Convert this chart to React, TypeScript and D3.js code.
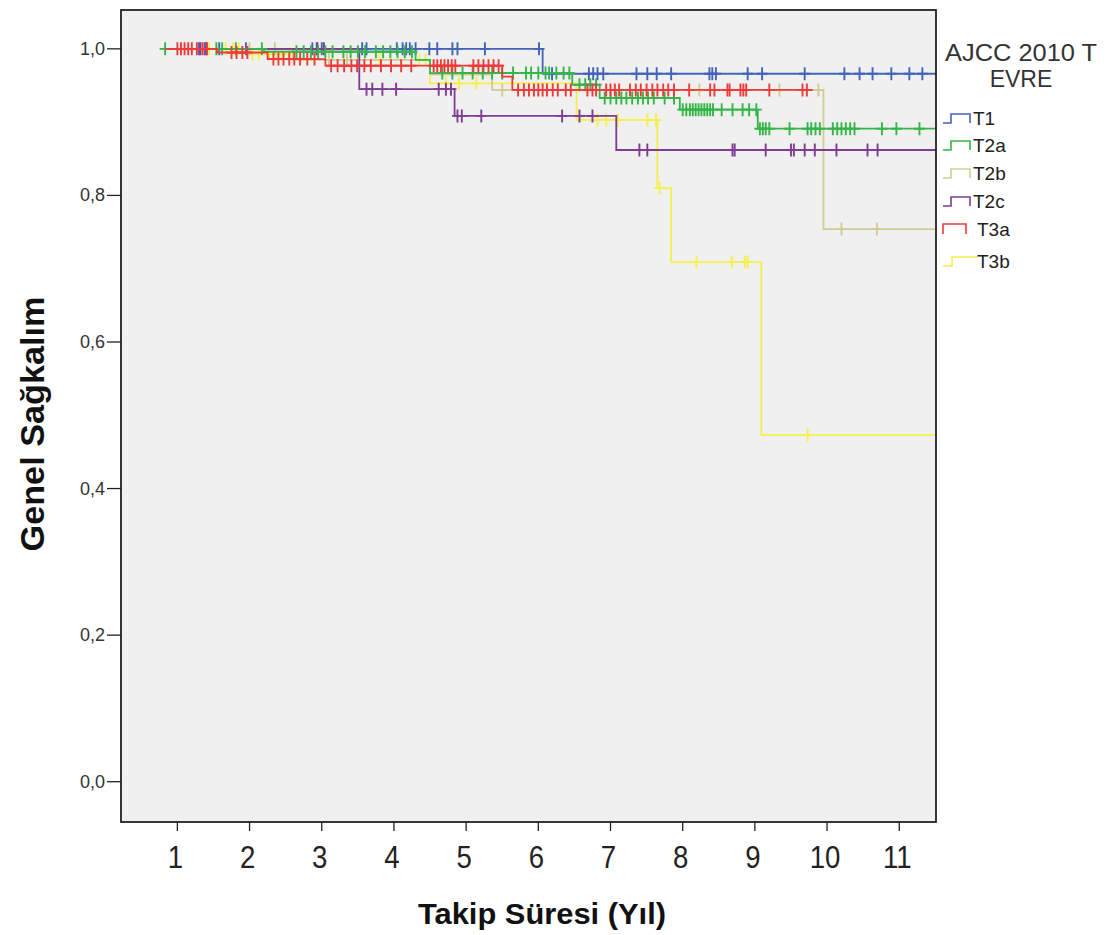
import React from "react";
import * as d3 from "d3";

// ---- Kaplan–Meier data (time in years, survival proportion) ----
const X_TICKS = [1, 2, 3, 4, 5, 6, 7, 8, 9, 10, 11];
const Y_TICKS = [0, 0.2, 0.4, 0.6, 0.8, 1.0];
const X_DOMAIN = [0.219, 11.509];
const Y_DOMAIN = [-0.055, 1.053];
const START_TIME = 0.83;

const GROUPS = ["T1", "T2a", "T2b", "T2c", "T3a", "T3b"];
const COLORS = ["#4563B8", "#35B548", "#D2CB93", "#7E3C92", "#EF3A3A", "#F5EF4C"];

// [event time, survival after the event]
const t1Steps = [[6.06, 0.966]];
const t1Censored = [1.3, 1.38, 1.58, 1.95, 2.87, 2.93, 3.0, 3.56, 3.62, 4.04, 4.12, 4.17, 4.22, 4.3, 4.49, 4.6, 4.81, 4.88, 5.26, 6.01, 6.19, 6.7, 6.76, 6.82, 6.9, 7.36, 7.51, 7.64, 7.84, 8.37, 8.41, 8.46, 8.9, 9.1, 9.69, 10.24, 10.45, 10.63, 10.89, 11.14, 11.32];
const t1End = 11.51;

const t2aSteps = [[2.2, 0.996], [4.3, 0.985], [4.5, 0.967], [6.47, 0.951], [6.85, 0.933], [7.96, 0.917], [9.04, 0.891]];
const t2aCensored = [0.83, 1.54, 1.62, 1.81, 2.17, 2.65, 2.75, 2.85, 2.95, 3.05, 3.15, 3.3, 3.4, 3.5, 3.6, 3.75, 3.85, 3.95, 4.05, 4.15, 4.25, 4.67, 4.81, 4.95, 5.09, 5.23, 5.36, 5.5, 5.65, 5.83, 5.9, 6.0, 6.1, 6.15, 6.25, 6.35, 6.43, 6.57, 6.65, 6.72, 6.8, 6.92, 7.0, 7.08, 7.15, 7.22, 7.3, 7.38, 7.45, 7.52, 7.6, 7.75, 7.88, 8.0, 8.05, 8.1, 8.14, 8.18, 8.22, 8.26, 8.3, 8.34, 8.38, 8.42, 8.54, 8.69, 8.83, 8.92, 9.02, 9.07, 9.11, 9.15, 9.2, 9.48, 9.73, 9.78, 9.84, 9.9, 10.08, 10.14, 10.2, 10.26, 10.32, 10.38, 10.76, 10.96, 11.28];
const t2aEnd = 11.51;

const t2bSteps = [[2.6, 0.985], [4.5, 0.965], [5.36, 0.944], [9.95, 0.754]];
const t2bCensored = [2.0, 2.35, 3.1, 3.35, 5.5, 8.23, 9.34, 9.88, 10.2, 10.69];
const t2bEnd = 11.51;

const t2cSteps = [[3.52, 0.945], [4.84, 0.9085], [7.08, 0.862]];
const t2cCensored = [1.32, 1.4, 2.94, 3.03, 3.62, 3.7, 3.84, 4.03, 4.62, 4.72, 4.79, 4.88, 4.94, 5.21, 6.33, 6.57, 6.75, 7.4, 7.51, 8.69, 8.72, 9.15, 9.5, 9.54, 9.69, 9.83, 10.13, 10.56, 10.7];
const t2cEnd = 11.51;

const t3aSteps = [[1.55, 0.995], [2.25, 0.986], [3.05, 0.977], [5.5, 0.962], [5.64, 0.944]];
const t3aCensored = [1.0, 1.05, 1.1, 1.15, 1.2, 1.27, 1.35, 1.41, 1.75, 1.82, 1.9, 1.97, 2.33, 2.4, 2.47, 2.55, 2.62, 2.7, 2.8, 2.9, 3.13, 3.22, 3.31, 3.41, 3.49, 3.59, 3.68, 3.82, 3.96, 4.1, 4.24, 4.55, 4.6, 4.65, 4.7, 4.75, 4.8, 4.85, 5.1, 5.17, 5.24, 5.31, 5.38, 5.45, 5.72, 5.8, 5.87, 5.94, 6.0, 6.06, 6.12, 6.2, 6.27, 6.38, 6.45, 6.68, 6.75, 6.8, 6.94, 7.0, 7.06, 7.12, 7.27, 7.35, 7.42, 7.5, 7.58, 7.65, 7.73, 7.8, 7.88, 8.09, 8.38, 8.44, 8.62, 8.65, 8.8, 8.84, 8.88, 9.2, 9.66, 9.72];
const t3aEnd = 9.8;

const t3bSteps = [[1.9, 0.993], [2.6, 0.985], [4.5, 0.953], [6.53, 0.903], [7.65, 0.81], [7.84, 0.709], [9.09, 0.473]];
const t3bCensored = [1.44, 1.54, 1.67, 1.77, 1.85, 2.04, 2.13, 2.27, 2.36, 2.45, 2.55, 3.8, 4.35, 4.44, 4.72, 4.9, 5.14, 6.82, 6.94, 7.1, 7.51, 7.63, 7.68, 8.19, 8.68, 8.86, 8.9, 9.73];
const t3bEnd = 11.51;

const SERIES = [
  { steps: t1Steps, censored: t1Censored, end: t1End },
  { steps: t2aSteps, censored: t2aCensored, end: t2aEnd },
  { steps: t2bSteps, censored: t2bCensored, end: t2bEnd },
  { steps: t2cSteps, censored: t2cCensored, end: t2cEnd },
  { steps: t3aSteps, censored: t3aCensored, end: t3aEnd },
  { steps: t3bSteps, censored: t3bCensored, end: t3bEnd },
];
// drawing order (later = on top)
const DRAW_ORDER = [5, 2, 0, 3, 1, 4];

const FONT = "'Liberation Sans', Arial, Helvetica, sans-serif";

function survivalAt(steps: number[][], t: number) {
  let s = 1;
  for (const [time, v] of steps) if (time <= t) s = v;
  return s;
}

export default function App() {
  const W = 1120;
  const H = 935;
  const left = 121, right = 936, top = 10, bottom = 822;

  const x = d3.scaleLinear().domain(X_DOMAIN).range([left, right]);
  const y = d3.scaleLinear().domain(Y_DOMAIN).range([bottom, top]);

  const line = d3
    .line<number[]>()
    .x((d) => x(d[0]))
    .y((d) => y(d[1]))
    .curve(d3.curveStepAfter);

  const legendY = [118, 145, 173, 201, 229, 261];

  return (
    <svg
      width={W}
      height={H}
      style={{ position: "absolute", left: 0, top: 0, background: "#fff" }}
      fontFamily={FONT}
    >
      <rect x={left} y={top} width={right - left} height={bottom - top} fill="#F0F0F0" />

      {/* survival curves */}
      {DRAW_ORDER.map((gi) => {
        const s = SERIES[gi];
        const pts = [[START_TIME, 1], ...s.steps];
        const last = pts[pts.length - 1][1];
        pts.push([s.end, last]);
        return (
          <g key={GROUPS[gi]} stroke={COLORS[gi]} fill="none" strokeWidth={1.8}>
            <path d={line(pts) || ""} />
            {s.censored.map((t, i) => {
              const cx = x(t);
              const cy = y(survivalAt(s.steps, t));
              return (
                <path
                  key={i}
                  d={`M${cx},${cy - 6.5}V${cy + 6.5}M${cx - 5.5},${cy}H${cx + 5.5}`}
                  strokeWidth={1.9}
                />
              );
            })}
          </g>
        );
      })}

      {/* frame */}
      <rect
        x={left}
        y={top}
        width={right - left}
        height={bottom - top}
        fill="none"
        stroke="#222"
        strokeWidth={1.8}
      />

      {/* y axis */}
      {Y_TICKS.map((v) => (
        <g key={v}>
          <line x1={left - 14} x2={left} y1={y(v)} y2={y(v)} stroke="#222" strokeWidth={1.3} />
          <text
            x={left - 16}
            y={y(v) + 6}
            textAnchor="end"
            fontSize={18}
            fill="#333"
          >
            {d3.format(".1f")(v).replace(".", ",")}
          </text>
        </g>
      ))}

      {/* x axis */}
      {X_TICKS.map((v) => (
        <g key={v}>
          <line x1={x(v)} x2={x(v)} y1={bottom} y2={bottom + 9} stroke="#222" strokeWidth={1.3} />
          <text
            x={x(v) - 2}
            y={bottom + 46}
            textAnchor="middle"
            fontSize={30}
            fill="#222"
            transform={`translate(${x(v) - 2},${bottom + 46}) scale(0.92,1.05) translate(${-(x(v) - 2)},${-(bottom + 46)})`}
          >
            {v}
          </text>
        </g>
      ))}

      {/* axis titles */}
      <text
        x={542}
        y={924}
        textAnchor="middle"
        fontSize={29}
        fontWeight="bold"
        fill="#111"
        textLength={248}
        lengthAdjust="spacingAndGlyphs"
      >
        Takip Süresi (Yıl)
      </text>
      <text
        transform={`translate(44,424) rotate(-90)`}
        textAnchor="middle"
        fontSize={33}
        fontWeight="bold"
        fill="#111"
        textLength={255}
        lengthAdjust="spacingAndGlyphs"
      >
        Genel Sağkalım
      </text>

      {/* legend */}
      <text x={1021} y={61} textAnchor="middle" fontSize={23} fill="#333" textLength={152} lengthAdjust="spacingAndGlyphs">
        AJCC 2010 T
      </text>
      <text x={1021} y={87} textAnchor="middle" fontSize={23} fill="#333">
        EVRE
      </text>
      {GROUPS.map((g, i) => {
        const cy = legendY[i];
        let d: string;
        let tx = 973;
        if (g === "T3a") {
          d = `M943,${cy + 5}V${cy - 5}H966V${cy + 5}`;
          tx = 977;
        } else if (g === "T3b") {
          d = `M943,${cy + 5}H952V${cy - 4}H978`;
          tx = 977;
        } else {
          d = `M943,${cy + 5}H951V${cy - 4}H970V${cy + 5}`;
        }
        return (
          <g key={g}>
            <path d={d} fill="none" stroke={COLORS[i]} strokeWidth={1.6} />
            <text x={tx} y={cy + 7} fontSize={19} fill="#222">
              {g}
            </text>
          </g>
        );
      })}
    </svg>
  );
}
